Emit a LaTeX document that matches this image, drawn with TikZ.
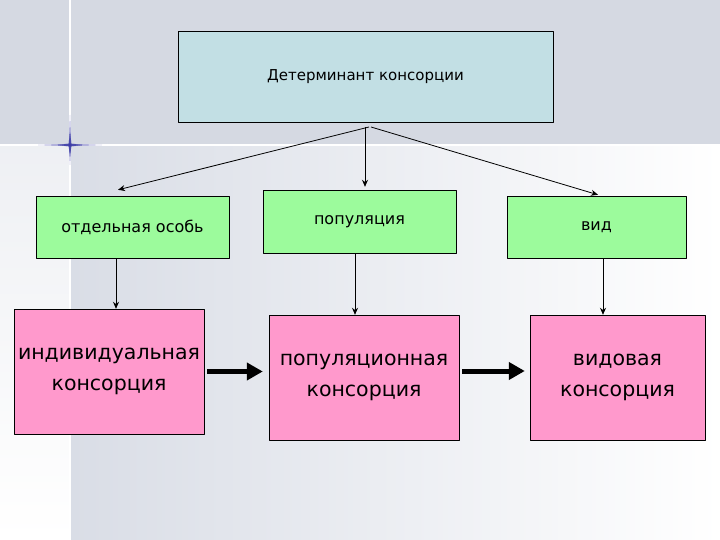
\documentclass[tikz,border=0pt]{standalone}
\usepackage{fontspec}
\setmainfont{DejaVu Sans}
\usetikzlibrary{arrows.meta}
\definecolor{slidegray}{HTML}{D5D9E2}
\definecolor{slidegraylow}{HTML}{D9DDE6}
\definecolor{starblue}{HTML}{3B3BA6}
\definecolor{topblue}{HTML}{C2DFE4}
\definecolor{levelgreen}{HTML}{9CFB9C}
\definecolor{conspink}{HTML}{FF99CC}
\begin{document}
\begin{tikzpicture}[x=1pt, y=-1pt, line join=round,
	topbox/.style={draw, fill=topblue, minimum width=375pt, minimum height=91pt, font=\fontsize{15}{17}\selectfont},
	levelbox/.style={draw, fill=levelgreen, minimum height=62pt, font=\fontsize{16}{18}\selectfont},
	consbox/.style={draw, fill=conspink, minimum height=125pt, align=center, font=\fontsize{20.5}{31}\selectfont},
	thinarrow/.style={line width=0.8pt, -{Stealth[length=7pt,width=6pt]}},
	bigarrow/.style={line width=5pt, -{Triangle[length=16pt,width=17pt]}}]
	\useasboundingbox (0,0) rectangle (720,540);
	% Фон слайда
	\fill[white] (0,0) rectangle (720,540);
	\fill[slidegray] (0,0) rectangle (720,145);
	\shade[left color=slidegraylow, right color=white] (70,145) rectangle (720,540);
	\shade[top color=slidegray!40, bottom color=white] (0,145) rectangle (70,540);
	\draw[white, line width=2.5pt] (70,0) -- (70,540);
	\draw[white, line width=2.5pt] (0,145) -- (720,145);
	\fill[starblue, opacity=0.6] (38,145) -- (70,143.8) -- (102,145) -- (70,146.2) -- cycle;
	\fill[starblue, opacity=0.6] (70,115) -- (71.2,145) -- (70,165) -- (68.8,145) -- cycle;
	\fill[starblue, opacity=0.8] (58,145) -- (70,143.5) -- (82,145) -- (70,146.5) -- cycle;
	\fill[starblue, opacity=0.8] (70,132) -- (71.5,145) -- (70,156) -- (68.5,145) -- cycle;
	% Блоки
	\node[topbox] (det) at (365.5,76.5) {Детерминант консорции};
	\node[levelbox, minimum width=193pt] (osob) at (132.5,227) {отдельная особь};
	\node[levelbox, minimum width=193pt, minimum height=63pt] (popul) at (359.5,221.5) {популяция};
	\node[levelbox, minimum width=179pt] (vid) at (596.5,227) {вид};
	\node[consbox, minimum width=190pt] (ind) at (109,371.5) {индивидуальная\\консорция};
	\node[consbox, minimum width=190pt] (popk) at (364,377.5) {популяционная\\консорция};
	\node[consbox, minimum width=175pt] (vidk) at (617.5,377.5) {видовая\\консорция};
	% Стрелки от детерминанта
	\coordinate (src) at (365,127);
	\draw[thinarrow] ([xshift=4pt]src) -- ([xshift=-14.5pt,yshift=6pt]osob.north);
	\draw[thinarrow] (src) -- ([yshift=3pt]popul.north -| src);
	\draw[thinarrow] ([xshift=6pt]src) -- ([xshift=1.5pt,yshift=1pt]vid.north);
	% Уровни -> консорции
	\foreach \a/\b/\s in {osob/ind/-16.5, popul/popk/-4.5, vid/vidk/6.5}
	\draw[thinarrow] ([xshift=\s pt]\a.south) -- ([xshift=\s pt]\a.south |- \b.north);
	% Толстые стрелки
	\draw[bigarrow] ([xshift=3pt]ind.east) -- ([xshift=-6pt]ind.east -| popk.west);
	\draw[bigarrow] ([xshift=3pt,yshift=6.5pt]popk.east) -- ([xshift=-5pt,yshift=6.5pt]vidk.west);
\end{tikzpicture}
\end{document}
